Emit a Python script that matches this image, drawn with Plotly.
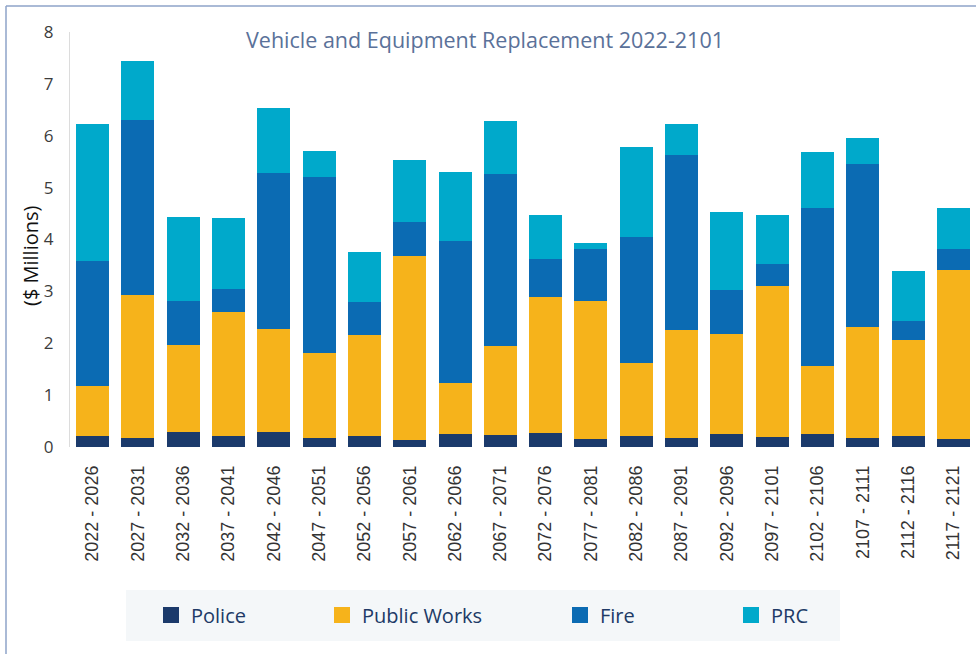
import plotly.graph_objects as go

periods = ["2022 - 2026", "2027 - 2031", "2032 - 2036", "2037 - 2041", "2042 - 2046",
           "2047 - 2051", "2052 - 2056", "2057 - 2061", "2062 - 2066", "2067 - 2071",
           "2072 - 2076", "2077 - 2081", "2082 - 2086", "2087 - 2091", "2092 - 2096",
           "2097 - 2101", "2102 - 2106", "2107 - 2111", "2112 - 2116", "2117 - 2121"]

police = [0.21, 0.17, 0.28, 0.21, 0.28, 0.17, 0.21, 0.14, 0.26, 0.23,
          0.27, 0.16, 0.22, 0.17, 0.26, 0.19, 0.26, 0.17, 0.22, 0.16]
public_works = [0.96, 2.76, 1.69, 2.40, 1.99, 1.64, 1.95, 3.54, 0.97, 1.72,
                2.62, 2.66, 1.39, 2.08, 1.92, 2.91, 1.31, 2.14, 1.84, 3.26]
fire = [2.41, 3.38, 0.85, 0.43, 3.02, 3.39, 0.63, 0.65, 2.74, 3.32,
        0.73, 0.99, 2.43, 3.38, 0.85, 0.42, 3.04, 3.14, 0.37, 0.39]
prc = [2.64, 1.13, 1.61, 1.37, 1.24, 0.50, 0.96, 1.21, 1.33, 1.01,
       0.85, 0.13, 1.75, 0.59, 1.50, 0.95, 1.07, 0.50, 0.97, 0.79]

y_ticks = [0, 1, 2, 3, 4, 5, 6, 7, 8]

series = [
    ("Police", police, "#1b3a6b", "legend"),
    ("Public Works", public_works, "#f6b31b", "legend2"),
    ("Fire", fire, "#0b6bb3", "legend3"),
    ("PRC", prc, "#00a9cb", "legend4"),
]

W, H = 976, 654
L, R, T, B = 70, 0, 32, 207
pw_ = W - L - R
ph_ = H - T - B


def px_x(p):
    return (p - L) / pw_


def px_y(p):
    return (H - B - p) / ph_


fig = go.Figure()
for name, vals, color, lg in series:
    fig.add_trace(go.Bar(x=periods, y=vals, name=name, marker_color=color,
                         marker_line_width=0, showlegend=False, legendgroup=name))
    fig.add_trace(go.Scatter(x=[None], y=[None], mode="markers", name=name,
                             legendgroup=name, legend=lg,
                             marker=dict(symbol="square", size=16, color=color)))

legend_font = dict(family="Open Sans", size=20, color="#203a66")
leg_pos = {"legend": 176, "legend2": 347, "legend3": 585, "legend4": 756}
layout_legends = {}
for k, cx in leg_pos.items():
    layout_legends[k] = dict(x=px_x(cx - 25), xanchor="left", y=px_y(615), yanchor="middle",
                             bgcolor="rgba(0,0,0,0)", font=legend_font,
                             orientation="h", itemclick=False)

fig.update_layout(
    width=W, height=H,
    margin=dict(l=L, r=R, t=T, b=B),
    paper_bgcolor="white", plot_bgcolor="white",
    barmode="stack", bargap=0.27,
    title=dict(text="Vehicle and Equipment Replacement 2022-2101",
               x=485 / W, xanchor="center", y=1 - 40 / H, yanchor="middle",
               font=dict(family="Open Sans", size=21.5, color="#5a7199")),
    xaxis=dict(type="category", range=[-0.5, 19.5], tickangle=-90,
               tickfont=dict(family="Liberation Sans", size=18, color="#333333"),
               showline=False, showgrid=False, ticks="", ticklabelstandoff=14),
    yaxis=dict(range=[0, 8], tickvals=y_ticks, showgrid=False, zeroline=False,
               showline=True, linecolor="#dcdcdc", linewidth=1, ticks="",
               tickfont=dict(family="Open Sans", size=17, color="#3c3c3c"),
               ticklabelstandoff=12),
    annotations=[
        dict(text="($ Millions)", textangle=-90, xref="paper", yref="paper",
             x=px_x(30), y=px_y(256), xanchor="center", yanchor="middle",
             showarrow=False,
             font=dict(family="Open Sans", size=20, color="#111111")),
    ],
    shapes=[
        dict(type="rect", xref="paper", yref="paper",
             x0=px_x(126), x1=px_x(840), y0=px_y(641), y1=px_y(590),
             fillcolor="#f4f7f9", line_width=0, layer="below"),
        dict(type="line", xref="paper", yref="paper",
             x0=px_x(6), x1=px_x(976), y0=px_y(6), y1=px_y(6),
             line=dict(color="#8ea3c9", width=1.5)),
        dict(type="line", xref="paper", yref="paper",
             x0=px_x(6), x1=px_x(6), y0=px_y(6), y1=px_y(654),
             line=dict(color="#8ea3c9", width=1.5)),
    ],
    **layout_legends,
)

fig.write_html("out.html", config={"displayModeBar": False},
               post_script="document.body.style.margin='0';")
